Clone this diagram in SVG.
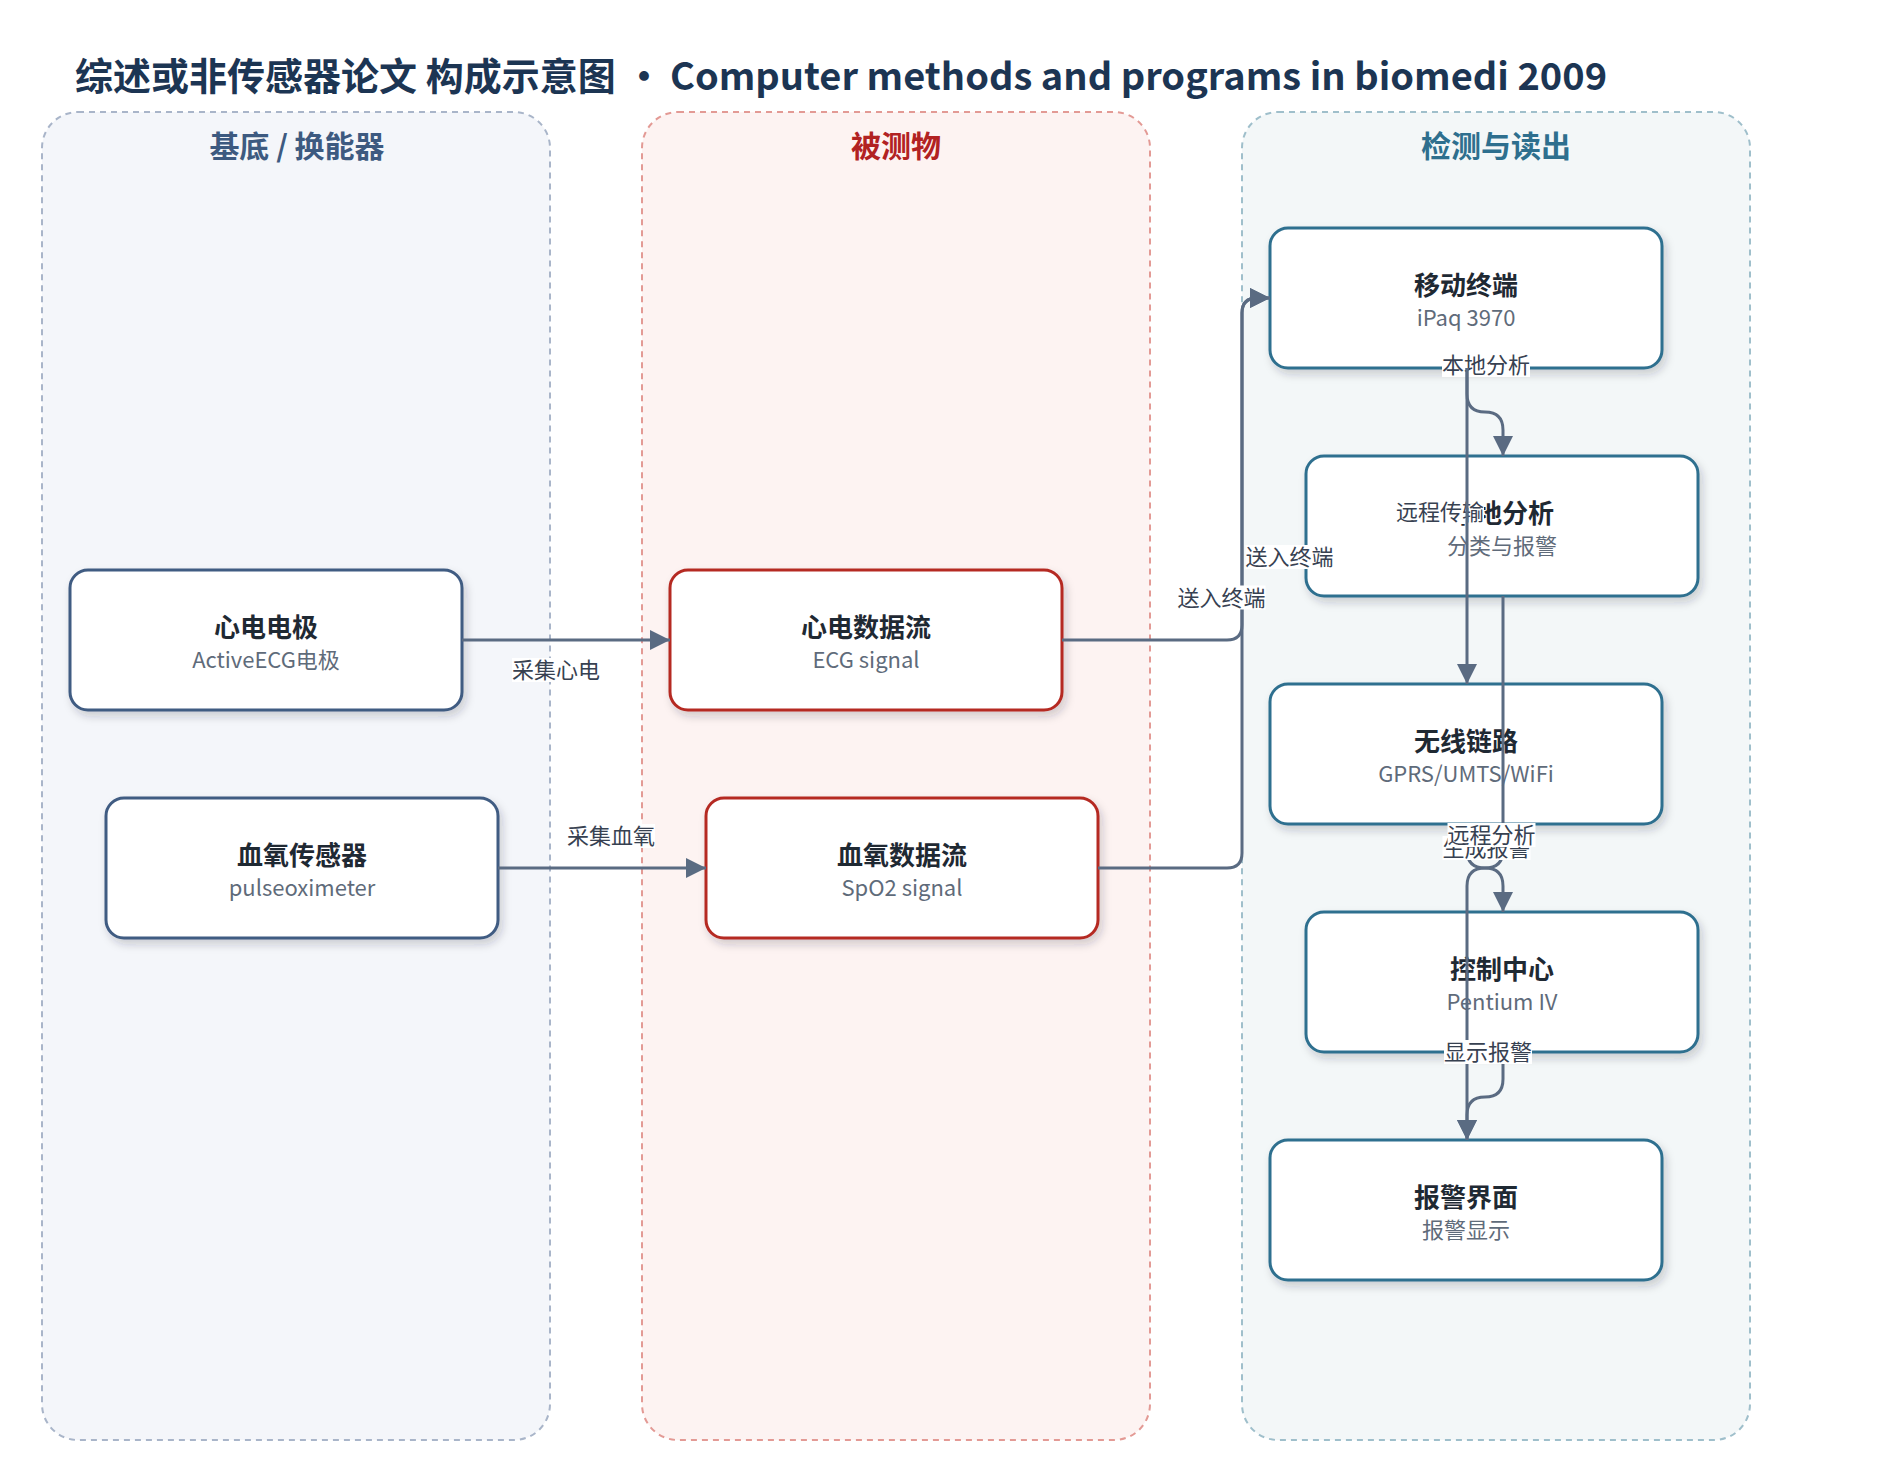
<svg xmlns="http://www.w3.org/2000/svg" width="1892" height="1463" viewBox="0 0 1892 1463">
<defs>
  <filter id="sh" x="-10%" y="-10%" width="125%" height="135%">
    <feDropShadow dx="3" dy="5" stdDeviation="4" flood-color="#1f2937" flood-opacity="0.2"/>
  </filter>
  <marker id="arr" markerUnits="userSpaceOnUse" markerWidth="20" markerHeight="20" refX="20" refY="10" orient="auto">
    <path d="M0,0 L20,10 L0,20 z" fill="#5a6b82"/>
  </marker>
</defs>
<style>
  text { font-family: "Noto Sans CJK SC", "Noto Sans", sans-serif; }
  .title { font-size: 38px; font-weight: 700; fill: #1c3553; }
  .lane { stroke-width: 2; stroke-dasharray: 6 5; }
  .lt { font-size: 30px; font-weight: 700; text-anchor: middle; }
  .node rect { fill: #ffffff; stroke-width: 3; filter: url(#sh); }
  .n1 rect { stroke: #3f5b82; }
  .n2 rect { stroke: #b52a24; }
  .n3 rect { stroke: #2f6f8f; }
  .nt { font-size: 26px; font-weight: 700; fill: #1f2933; text-anchor: middle; }
  .ns { font-size: 22px; fill: #5f6b7a; text-anchor: middle; }
  .edge { fill: none; stroke: #5a6b82; stroke-width: 3; }
  .lbg { fill: #ffffff; }
  .lbl { font-size: 22px; fill: #374151; text-anchor: middle; }
</style>
<rect width="1892" height="1463" fill="#ffffff"/>
<text class="title" x="75" y="90">综述或非传感器论文 构成示意图<tspan x="625">•</tspan><tspan x="670">Computer methods and programs in biomedi 2009</tspan></text>

<g id="lanes">
  <rect class="lane" x="42" y="112" width="508" height="1328" rx="36" fill="#f4f6fa" stroke="#a9b5c9"/>
  <rect class="lane" x="642" y="112" width="508" height="1328" rx="36" fill="#fdf3f2" stroke="#e39a95"/>
  <rect class="lane" x="1242" y="112" width="508" height="1328" rx="36" fill="#f3f7f8" stroke="#9fbfcb"/>
  <text class="lt" x="297" y="157" fill="#3d5a80">基底 / 换能器</text>
  <text class="lt" x="896" y="157" fill="#b22222">被测物</text>
  <text class="lt" x="1496" y="157" fill="#2e6f8e">检测与读出</text>
</g>

<g id="node-ecg-electrode" class="node n1">
  <rect x="70" y="570" width="392" height="140" rx="18"/>
  <text class="nt" x="266" y="637">心电电极</text>
  <text class="ns" x="266" y="668">ActiveECG电极</text>
</g>
<g id="node-spo2-sensor" class="node n1">
  <rect x="106" y="798" width="392" height="140" rx="18"/>
  <text class="nt" x="302" y="865">血氧传感器</text>
  <text class="ns" x="302" y="896">pulseoximeter</text>
</g>
<g id="node-ecg-stream" class="node n2">
  <rect x="670" y="570" width="392" height="140" rx="18"/>
  <text class="nt" x="866" y="637">心电数据流</text>
  <text class="ns" x="866" y="668">ECG signal</text>
</g>
<g id="node-spo2-stream" class="node n2">
  <rect x="706" y="798" width="392" height="140" rx="18"/>
  <text class="nt" x="902" y="865">血氧数据流</text>
  <text class="ns" x="902" y="896">SpO2 signal</text>
</g>
<g id="node-mobile" class="node n3">
  <rect x="1270" y="228" width="392" height="140" rx="18"/>
  <text class="nt" x="1466" y="295">移动终端</text>
  <text class="ns" x="1466" y="326">iPaq 3970</text>
</g>
<g id="node-local" class="node n3">
  <rect x="1306" y="456" width="392" height="140" rx="18"/>
  <text class="nt" x="1502" y="523">本地分析</text>
  <text class="ns" x="1502" y="554">分类与报警</text>
</g>
<g id="node-wireless" class="node n3">
  <rect x="1270" y="684" width="392" height="140" rx="18"/>
  <text class="nt" x="1466" y="751">无线链路</text>
  <text class="ns" x="1466" y="782">GPRS/UMTS/WiFi</text>
</g>
<g id="node-control" class="node n3">
  <rect x="1306" y="912" width="392" height="140" rx="18"/>
  <text class="nt" x="1502" y="979">控制中心</text>
  <text class="ns" x="1502" y="1010">Pentium IV</text>
</g>
<g id="node-alarm-ui" class="node n3">
  <rect x="1270" y="1140" width="392" height="140" rx="18"/>
  <text class="nt" x="1466" y="1207">报警界面</text>
  <text class="ns" x="1466" y="1238">报警显示</text>
</g>

<g id="connectors">
  <path class="edge" d="M462 640 H670" marker-end="url(#arr)"/>
  <path class="edge" d="M498 868 H706" marker-end="url(#arr)"/>
  <path class="edge" d="M1062 640 H1227 Q1242 640 1242 625 V313 Q1242 298 1257 298 H1270" marker-end="url(#arr)"/>
  <path class="edge" d="M1098 868 H1227 Q1242 868 1242 853 V313 Q1242 298 1257 298 H1270" marker-end="url(#arr)"/>
  <rect class="lbg" x="512" y="658" width="88" height="24"/><text class="lbl" x="556" y="678">采集心电</text>
  <rect class="lbg" x="567" y="824" width="88" height="24"/><text class="lbl" x="611" y="844">采集血氧</text>
  <rect class="lbg" x="1245.5" y="545" width="88" height="24"/><text class="lbl" x="1289.5" y="565">送入终端</text>
  <rect class="lbg" x="1177.5" y="585.5" width="88" height="24"/><text class="lbl" x="1221.5" y="605.5">送入终端</text>
  <rect class="lbg" x="1442" y="353" width="88" height="24"/><text class="lbl" x="1486" y="373">本地分析</text>
  <rect class="lbg" x="1396" y="500" width="88" height="24"/><text class="lbl" x="1440" y="520">远程传输</text>
  <path class="edge" d="M1467 368 V394 Q1467 412 1485 412 Q1503 412 1503 430 V456" marker-end="url(#arr)"/>
  <path class="edge" d="M1467 368 V684" marker-end="url(#arr)"/>
  <path class="edge" d="M1503 596 V850 Q1503 868 1485 868 Q1467 868 1467 886 V1140" marker-end="url(#arr)"/>
  <path class="edge" d="M1467 824 V850 Q1467 868 1485 868 Q1503 868 1503 886 V912" marker-end="url(#arr)"/>
  <path class="edge" d="M1503 1052 V1079 Q1503 1097 1485 1097 Q1467 1097 1467 1115 V1140" marker-end="url(#arr)"/>
  <rect class="lbg" x="1442.5" y="836" width="88" height="24"/><text class="lbl" x="1486.5" y="856">生成报警</text>
  <rect class="lbg" x="1447.5" y="823" width="88" height="24"/><text class="lbl" x="1491.5" y="843">远程分析</text>
  <rect class="lbg" x="1444" y="1040" width="88" height="24"/><text class="lbl" x="1488" y="1060">显示报警</text>
</g>
</svg>
